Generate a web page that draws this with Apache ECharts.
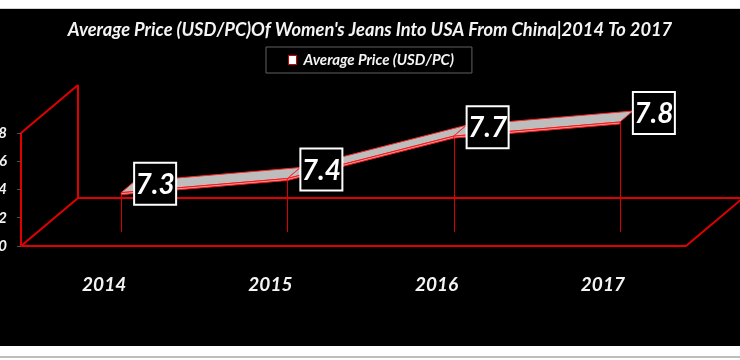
<!DOCTYPE html>
<html>
<head>
<meta charset="utf-8">
<script src="https://cdn.jsdelivr.net/npm/echarts@6/dist/echarts.min.js"></script>
<style>
  html, body { margin: 0; padding: 0; background: #ffffff; }
  #wrap { position: relative; width: 740px; height: 360px; overflow: hidden; background: #ffffff; }
  #topline { position: absolute; left: 0; top: 8px; width: 740px; height: 1px; background: #d4d4d4; }
  #panel { position: absolute; left: 0; top: 9px; width: 740px; height: 337px; background: #000000; }
  #botline { position: absolute; left: 0; top: 356px; width: 740px; height: 2px; background: #bdbdbd; }
  #chart { position: absolute; left: 0; top: 0; width: 740px; height: 360px; }
</style>
</head>
<body>
<div id="wrap">
  <div id="topline"></div>
  <div id="panel"></div>
  <div id="botline"></div>
  <div id="chart"></div>
</div>
<script>
// ---- data ----
const chartTitle = "Average Price (USD/PC)Of Women's Jeans Into USA From China|2014 To 2017";
const seriesName = 'Average Price (USD/PC)';
const categories = ['2014', '2015', '2016', '2017'];
const prices = [7.3, 7.4, 7.7, 7.8];
const yMin = 7.0;
const yMax = 7.8;
const yStep = 0.2;

// ---- style constants ----
const FONT = 'Lato, "Open Sans", sans-serif';
const RED = '#e00000';
const BACK = [57, -48];      // depth offset of the back wall
const PLANE = [17, -11];     // depth at which the series ribbon sits
const RIB = [13, -11];       // ribbon thickness (depth)
const LABEL_SHIFT = [34, -9];
const BOX = 42;

const segments = prices.slice(0, -1).map((v, i) => [i, v, i + 1, prices[i + 1]]);
const points = prices.map((v, i) => [i, v]);

const chart = echarts.init(document.getElementById('chart'), null, { renderer: 'canvas' });

function frameItem(params, api) {
  const cs = params.coordSys;
  const x = cs.x, y = cs.y, w = cs.width, h = cs.height;
  const st = { stroke: RED, lineWidth: 2, fill: null };
  const L = (x1, y1, x2, y2) => ({ type: 'line', shape: { x1, y1, x2, y2 }, style: st, silent: true });
  return {
    type: 'group',
    children: [
      L(x, y, x + BACK[0], y + BACK[1]),
      L(x + BACK[0], y + BACK[1], x + BACK[0], y + h + BACK[1]),
      L(x, y + h, x + BACK[0], y + h + BACK[1]),
      L(x + BACK[0], y + h + BACK[1], x + w + BACK[0], y + h + BACK[1]),
      L(x + w, y + h, x + w + BACK[0], y + h + BACK[1])
    ]
  };
}

function dropItem(params, api) {
  const p = api.coord([api.value(0), api.value(1)]);
  const b = api.coord([api.value(0), yMin]);
  const x = Math.round(p[0] + PLANE[0]) + 0.5;
  return {
    type: 'line',
    shape: { x1: x, y1: p[1] + PLANE[1], x2: x, y2: b[1] + PLANE[1] - 3 },
    style: { stroke: '#dd0000', lineWidth: 1 }
  };
}

function ribbonItem(params, api) {
  const a = api.coord([api.value(0), api.value(1)]);
  const c = api.coord([api.value(2), api.value(3)]);
  const p0 = [a[0] + PLANE[0], a[1] + PLANE[1]];
  const p1 = [c[0] + PLANE[0], c[1] + PLANE[1]];
  const q0 = [p0[0] + RIB[0], p0[1] + RIB[1]];
  const q1 = [p1[0] + RIB[0], p1[1] + RIB[1]];
  const t = 2;
  return {
    type: 'group',
    children: [
      { type: 'polygon', shape: { points: [p0, p1, q1, q0] },
        style: { fill: '#bdbdbd', stroke: '#ff2a2a', lineWidth: 1 } },
      { type: 'polygon', shape: { points: [p0, p1, [p1[0], p1[1] + t], [p0[0], p0[1] + t]] },
        style: { fill: '#e9a0a0', stroke: '#ff1414', lineWidth: 1 } }
    ]
  };
}

function labelItem(params, api) {
  const p = api.coord([api.value(0), api.value(1)]);
  const cx = p[0] + PLANE[0] + LABEL_SHIFT[0];
  const cy = p[1] + PLANE[1] + LABEL_SHIFT[1];
  return {
    type: 'group',
    children: [
      { type: 'rect', shape: { x: cx - BOX / 2, y: cy - BOX / 2, width: BOX, height: BOX },
        style: { fill: '#000000', stroke: '#ffffff', lineWidth: 2 } },
      { type: 'text', x: cx, y: cy + 1,
        style: { text: api.value(1).toFixed(1), fill: '#ffffff', align: 'center', verticalAlign: 'middle',
                 font: 'italic bold 28px ' + FONT } }
    ]
  };
}

chart.setOption({
  backgroundColor: 'transparent',
  animation: false,
  title: {
    text: chartTitle,
    left: 'center',
    top: 16,
    textStyle: { color: '#f4f4f4', fontFamily: FONT, fontWeight: 'bold', fontStyle: 'italic', fontSize: 18.3 }
  },
  legend: {
    data: [seriesName],
    left: 266,
    top: 47,
    padding: [5, 18, 5, 22],
    borderColor: '#606060',
    borderWidth: 1,
    itemWidth: 8,
    itemHeight: 9,
    itemGap: 4,
    icon: 'rect',
    itemStyle: { color: '#ffffff', borderColor: '#d00000', borderWidth: 1 },
    textStyle: { color: '#f4f4f4', fontFamily: FONT, fontWeight: 'bold', fontStyle: 'italic', fontSize: 15, lineHeight: 16, padding: [0, 0, 0, 2] }
  },
  grid: {
    left: 21, right: 54, top: 133, bottom: 114,
    containLabel: false,
    outerBoundsMode: 'none'
  },
  xAxis: {
    type: 'category',
    data: categories,
    boundaryGap: true,
    axisLine: { show: true, lineStyle: { color: RED, width: 2 } },
    axisTick: { show: false },
    splitLine: { show: false },
    axisLabel: { color: '#f4f4f4', fontFamily: FONT, fontWeight: 'bold', fontStyle: 'italic', fontSize: 19, margin: 29 }
  },
  yAxis: {
    type: 'value',
    min: yMin,
    max: yMax,
    interval: yStep,
    axisLine: { show: true, lineStyle: { color: RED, width: 2 } },
    axisTick: { show: true, length: 4, lineStyle: { color: '#505050', width: 1 } },
    splitLine: { show: false },
    axisLabel: {
      color: '#f4f4f4', fontFamily: FONT, fontWeight: 'bold', fontStyle: 'italic', fontSize: 15, margin: 14,
      formatter: v => v.toFixed(1)
    }
  },
  series: [
    {
      type: 'custom', name: 'frame', data: [[0, yMin]], renderItem: frameItem,
      silent: true, clip: false, z: 1
    },
    {
      type: 'custom', name: 'drops', data: points, renderItem: dropItem,
      silent: true, clip: false, z: 2
    },
    {
      type: 'custom', name: seriesName, data: segments, renderItem: ribbonItem,
      silent: true, clip: false, z: 3,
      itemStyle: { color: '#ffffff' }
    },
    {
      type: 'custom', name: 'labels', data: points, renderItem: labelItem,
      silent: true, clip: false, z: 5
    }
  ]
});
</script>
</body>
</html>
